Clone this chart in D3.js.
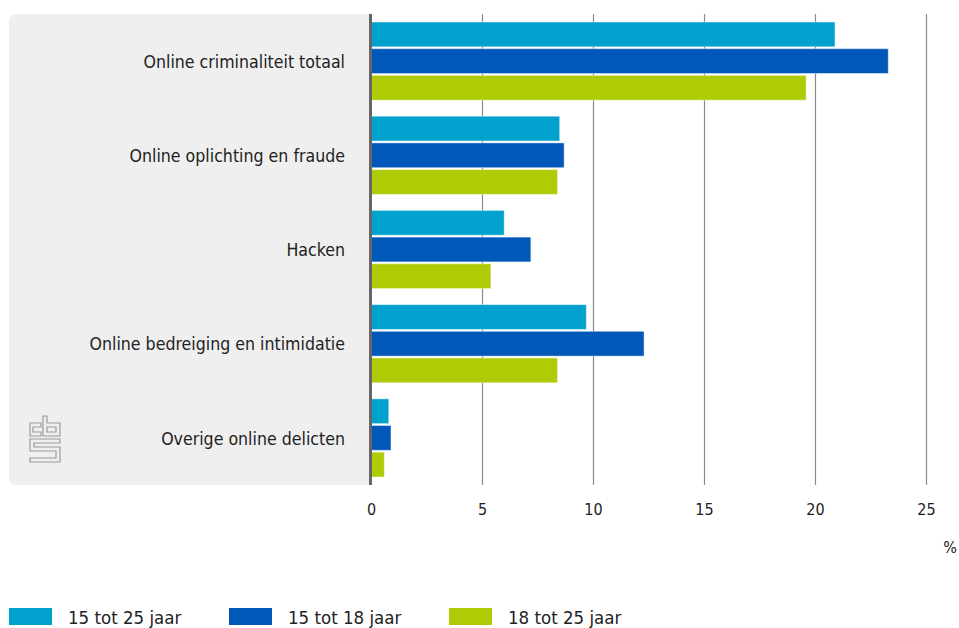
<!DOCTYPE html>
<html><head><meta charset="utf-8">
<script src="https://cdn.jsdelivr.net/npm/d3@7"></script>
<style>
body{margin:0;background:#fff;}
svg text{font-family:"Liberation Sans Narrow","DejaVu Sans Condensed",Roboto,sans-serif;fill:#222;}
</style></head>
<body><svg id="c" width="959" height="628"></svg>
<script>
const categories = ["Online criminaliteit totaal","Online oplichting en fraude","Hacken","Online bedreiging en intimidatie","Overige online delicten"];
const seriesNames = ["15 tot 25 jaar","15 tot 18 jaar","18 tot 25 jaar"];
const seriesColors = ["#00a1cd","#0058b8","#afcb05"];
const vals1525 = [20.9, 8.5, 6.0, 9.7, 0.8];
const vals1518 = [23.3, 8.7, 7.2, 12.3, 0.9];
const vals1825 = [19.6, 8.4, 5.4, 8.4, 0.6];
const xTicks = [0,5,10,15,20,25];
const unitLabel = "%";

(function(){
const series = [vals1525, vals1518, vals1825];
const svg = d3.select("#c");
const x0 = 371, pTop = 14, pBottom = 485;
const x = d3.scaleLinear().domain([0,25]).range([x0, 926]);
const y = d3.scaleBand().domain(categories).range([pTop,pBottom]).paddingInner(0.17).paddingOuter(0.085);
const yi = d3.scaleBand().domain(d3.range(3)).range([0,y.bandwidth()]).paddingInner(0.07);

svg.append("path")
  .attr("d", `M9,${pTop+8} Q9,${pTop} 17,${pTop} L${x0},${pTop} L${x0},${pBottom} L17,${pBottom} Q9,${pBottom} 9,${pBottom-8} Z`)
  .attr("fill","#efefef");

const xAxis = d3.axisBottom(x).tickValues(xTicks).tickSize(-(pBottom-pTop)).tickPadding(27);
const gx = svg.append("g").attr("transform",`translate(0,${pBottom})`).call(xAxis);
gx.select(".domain").remove();
gx.selectAll(".tick line").attr("stroke","#8a8a8a").attr("stroke-width",1.2);
gx.selectAll(".tick text").attr("font-size",16).attr("fill","#222").attr("dy","0.2em");
gx.selectAll(".tick").filter(d=>d===0).select("line").remove();

categories.forEach((c,i)=>{
  const g = svg.append("g").attr("transform",`translate(0,${y(c)})`);
  g.selectAll("rect").data(series.map((s,k)=>({k,v:s[i]}))).join("rect")
    .attr("x", x(0)).attr("y", d=>yi(d.k))
    .attr("width", d=>x(d.v)-x(0)).attr("height", yi.bandwidth())
    .attr("fill", d=>seriesColors[d.k])
    .attr("stroke", "rgba(255,255,255,0.45)").attr("stroke-width",1);
});

svg.append("line").attr("x1",x0-0.5).attr("x2",x0-0.5).attr("y1",pTop).attr("y2",pBottom)
  .attr("stroke","#666").attr("stroke-width",3);

svg.append("g").selectAll("text").data(categories).join("text")
  .attr("x",345).attr("y",d=>y(d)+y.bandwidth()/2).attr("dy","0.38em")
  .attr("text-anchor","end").attr("font-size",17.6).text(d=>d);

svg.append("text").attr("x",957).attr("y",553).attr("text-anchor","end").attr("font-size",16).text(unitLabel);

const lg = svg.append("g").selectAll("g").data(seriesNames).join("g")
  .attr("transform",(d,i)=>`translate(${9+i*220},608)`);
lg.append("rect").attr("width",43).attr("height",17).attr("fill",(d,i)=>seriesColors[i]);
lg.append("text").attr("x",59).attr("y",9).attr("dy","0.38em").attr("font-size",18.5).text(d=>d);

const logo = svg.append("g").attr("fill","none").attr("stroke","#9a9a9a").attr("stroke-width",1.2);
const lp = [
 "M30,423 H41 V427 H33 V432 H41 V436 H30 Z",
 "M43,416 H47 V423 H60 V436 H43 Z M47,427 V432 H56 V427 Z",
 "M30,439 H60 V443 H34 V447 H60 V462 H30 V458 H56 V451 H30 Z"
];
lp.forEach(p=>logo.append("path").attr("d",p));
})();
</script></body></html>
